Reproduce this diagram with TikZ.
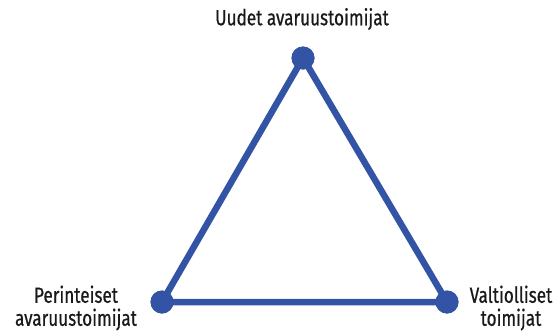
\documentclass[tikz,border=0pt]{standalone}
\usepackage{fontspec}
\setmainfont[FakeStretch=0.78,FakeBold=0.6]{Fira Sans}
\definecolor{tblue}{HTML}{3353A4}
\begin{document}
\begin{tikzpicture}[x=1pt,y=-1pt,
  edge/.style={draw=tblue,line width=6.5pt,line join=round},
  dot/.style={circle,fill=tblue,inner sep=0pt,minimum size=23pt},
  lbl/.style={font=\fontsize{22}{23}\selectfont,text=black!90,align=center,inner sep=0pt}]
\useasboundingbox (0,0) rectangle (557,335);
\node[dot] (t) at (303,58) {};
\node[dot] (l) at (162,302) {};
\node[dot] (r) at (447,302) {};
\draw[edge] (t.center) -- (l.center) -- (r.center) -- cycle;
\node[dot] at (t.center) {};
\node[dot] at (l.center) {};
\node[dot] at (r.center) {};
\node[lbl] (tl) at (302,19) {Uudet avaruustoimijat};
\node[lbl] (ll) at (76,308) {Perinteiset\\avaruustoimijat};
\node[lbl] (rl) at (511,308) {Valtiolliset\\toimijat};
\end{tikzpicture}
\end{document}
